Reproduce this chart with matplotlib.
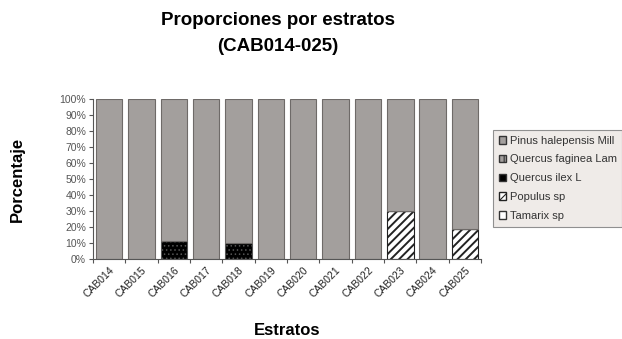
import matplotlib
matplotlib.use("Agg")
import matplotlib.pyplot as plt
from matplotlib.patches import Patch
import numpy as np

plt.rcParams['font.family'] = ['Liberation Sans', 'DejaVu Sans']
plt.rcParams['hatch.linewidth'] = 1.4

estratos = ["CAB014", "CAB015", "CAB016", "CAB017", "CAB018", "CAB019",
            "CAB020", "CAB021", "CAB022", "CAB023", "CAB024", "CAB025"]
especies = ["Pinus halepensis Mill", "Quercus faginea Lam", "Quercus ilex L",
            "Populus sp", "Tamarix sp"]

tamarix = [0, 0, 0, 0, 0, 0, 0, 0, 0, 0, 0, 0]
populus = [0, 0, 0, 0, 0, 0, 0, 0, 0, 30, 0, 19]
q_ilex = [0, 0, 11, 0, 10, 0, 0, 0, 0, 0, 0, 0]
q_faginea = [0, 0, 0, 0, 0, 0, 0, 0, 0, 0, 0, 0]
pinus = [100, 100, 89, 100, 90, 100, 100, 100, 100, 70, 100, 81]

fig = plt.figure(figsize=(6.22, 3.39), dpi=100)
ax = fig.add_axes([0.1495, 0.236, 0.624, 0.472])

x = np.arange(len(estratos))
w = 0.82
grey = "#a39f9d"
edge = "#6e6a68"

bottom = np.zeros(len(estratos))
# stacked from bottom: Tamarix, Populus, Q. ilex, Q. faginea, Pinus
ax.bar(x, tamarix, w, bottom=bottom, color="white", edgecolor=edge, linewidth=0.8)
bottom += tamarix
ax.bar(x, populus, w, bottom=bottom, color="white", edgecolor="#222222",
       hatch="////", linewidth=0.8)
bottom += populus
bars = ax.bar(x, q_ilex, w, bottom=bottom, color="black", edgecolor="#555555",
              hatch="....", linewidth=0.8)
for b in bars:
    b.set_hatch_linewidth(0.6)
bottom += q_ilex
ax.bar(x, q_faginea, w, bottom=bottom, color=grey, edgecolor=edge,
       hatch="||", linewidth=0.8)
bottom += q_faginea
ax.bar(x, pinus, w, bottom=bottom, color=grey, edgecolor=edge, linewidth=0.8)

ax.set_xlim(-0.5, len(estratos) - 0.5)
ax.set_ylim(0, 100)
ax.set_yticks(np.arange(0, 101, 10))
ax.set_yticklabels([f"{v}%" for v in range(0, 101, 10)], fontsize=7.5, color="#555555")
ax.set_xticks(np.arange(-0.5, len(estratos), 1), minor=False)
ax.set_xticklabels([])
ax.set_xticks(x, minor=True)
ax.set_xticklabels(estratos, minor=True, rotation=45, ha="right",
                   rotation_mode="anchor", fontsize=7.5, color="#222222")
ax.tick_params(axis="x", which="minor", length=0, pad=4)
ax.tick_params(axis="x", which="major", length=3, color="#555555")
ax.tick_params(axis="y", length=3, color="#555555", pad=2)

for s in ["top", "right"]:
    ax.spines[s].set_visible(False)
for s in ["left", "bottom"]:
    ax.spines[s].set_color("#555555")
    ax.spines[s].set_linewidth(0.8)

ax.set_ylabel("Porcentaje", fontsize=12, fontweight="bold", labelpad=25)
ax.set_xlabel("Estratos", fontsize=12, fontweight="bold", labelpad=17)
fig.text(0.447, 0.94, "Proporciones por estratos", ha="center", va="center",
         fontsize=13.5, fontweight="bold")
fig.text(0.447, 0.862, "(CAB014-025)", ha="center", va="center",
         fontsize=13.5, fontweight="bold")

handles = [
    Patch(facecolor=grey, edgecolor="#333333"),
    Patch(facecolor=grey, edgecolor="#333333", hatch="||"),
    Patch(facecolor="black", edgecolor="#333333"),
    Patch(facecolor="white", edgecolor="#222222", hatch="///"),
    Patch(facecolor="white", edgecolor="#333333"),
]
leg = fig.legend(handles, especies, loc="upper left",
                 bbox_to_anchor=(493 / 622, 1 - 130 / 339),
                 borderaxespad=0,
                 fontsize=8, frameon=True, fancybox=False,
                 handlelength=0.7, handleheight=0.7, handletextpad=0.3,
                 labelspacing=0.8, borderpad=0.5, labelcolor="#333333")
leg.get_frame().set_facecolor("#ebe7e3")
leg.get_frame().set_edgecolor("#777777")
leg.get_frame().set_linewidth(0.8)
for h in leg.legend_handles:
    h.set_hatch_linewidth(0.8)

fig.savefig("out.png", dpi=100)
